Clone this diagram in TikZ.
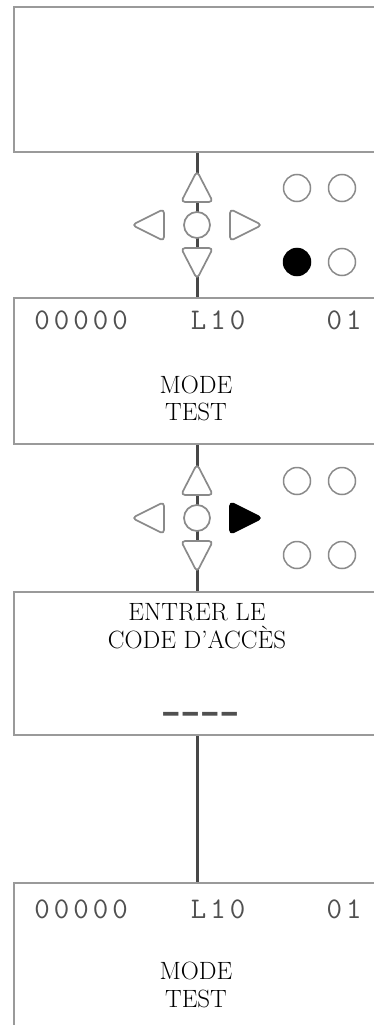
\documentclass[tikz,border=0pt]{standalone}
\usepackage{fontspec}
\usepackage{graphicx}
\usetikzlibrary{calc}
\newfontfamily\dashfont{DejaVu Sans}
\definecolor{boxgray}{HTML}{9A9A9A}
\definecolor{keygray}{HTML}{8A8A8A}
\definecolor{linedark}{HTML}{474747}
\definecolor{lcdgray}{HTML}{505050}
\newcommand\lcdtxt[1]{\lcdloop#1\relax}
\def\lcdloop#1{\ifx#1\relax\else\makebox[19.5pt]{#1}\expandafter\lcdloop\fi}
\newcommand\wdash{\scalebox{1.3}[1]{–}}
\tikzset{
  screen/.style={draw=boxgray, line width=1.6pt, fill=white, minimum width=366pt, inner sep=0pt, rectangle},
  conn/.style={draw=linedark, line width=3pt},
  ktri/.style={draw=keygray, line width=1.7pt, fill=white, rounded corners=4pt, line join=round},
  ktrion/.style={draw=black, line width=1.7pt, fill=black, rounded corners=4pt, line join=round},
  kbtn/.style={circle, draw=keygray, line width=1.7pt, fill=white, minimum size=26pt, inner sep=0pt},
  led/.style={circle, draw=keygray, line width=1.5pt, fill=white, minimum size=27pt, inner sep=0pt},
  ledon/.style={circle, draw=black, line width=1.5pt, fill=black, minimum size=27pt, inner sep=0pt},
  lcd/.style={inner sep=0pt, anchor=base, text=lcdgray, font=\ttfamily\fontsize{30}{30}\selectfont},
  msg/.style={inner sep=0pt, anchor=base, font=\fontsize{25}{28}\selectfont},
}
% #1 name, #2 centre y, #3 style of right arrow, #4 style of lower-left LED
\newcommand\kpad[4]{%
  \node[kbtn] (#1ok) at (197,#2) {};
  \draw[ktri] (197,{#2-54}) -- (213,{#2-23}) -- (181,{#2-23}) -- cycle;
  \draw[ktri] (197,{#2+54}) -- (213,{#2+23}) -- (181,{#2+23}) -- cycle;
  \draw[ktri] (132,#2) -- (164,{#2-16}) -- (164,{#2+16}) -- cycle;
  \draw[#3] (262,#2) -- (230,{#2-16}) -- (230,{#2+16}) -- cycle;
  \node[led] (#1la) at (297,{#2-37}) {};
  \node[led] (#1lb) at (342,{#2-37}) {};
  \node[#4] (#1lc) at (297,{#2+37}) {};
  \node[led] (#1ld) at (342,{#2+37}) {};
}
\begin{document}
\begin{tikzpicture}[x=1pt,y=-1pt]
\useasboundingbox (0,0) rectangle (374,1025);
\clip (0,0) rectangle (374,1025);
\fill[white] (0,0) rectangle (374,1025);
% screens
\node[screen, minimum height=145pt] (s1) at (197,79.5) {};
\node[screen, minimum height=146pt] (s2) at (197,371) {};
\node[screen, minimum height=143pt] (s3) at (197,663.5) {};
\node[screen, minimum height=160pt] (s4) at (197,963) {};
% connectors
\draw[conn] (s1.south) -- (s2.north);
\draw[conn] (s2.south) -- (s3.north);
\draw[conn] (s3.south) -- (s4.north);
% keypads
\kpad{ka}{225}{ktri}{ledon}
\kpad{kb}{518}{ktrion}{led}
% screen 2
\node[lcd] (c2a) at (81,329) {\lcdtxt{00000}};
\node[lcd] (c2b) at (218,329) {\lcdtxt{L10}};
\node[lcd] (c2c) at (344,329) {\lcdtxt{01}};
\node[msg] (m2a) at (196,393) {MODE};
\node[msg] (m2b) at (196,420) {TEST};
% screen 3
\node[msg] (m3a) at (197,620) {ENTRER LE};
\node[msg] (m3b) at (197,648) {CODE D’ACCÈS};
\node[lcd, font=\dashfont\bfseries\fontsize{30}{30}\selectfont] (m3c) at (200,722) {\lcdtxt{\wdash\wdash\wdash\wdash}};
% screen 4
\node[lcd] (c4a) at (81,918) {\lcdtxt{00000}};
\node[lcd] (c4b) at (218,918) {\lcdtxt{L10}};
\node[lcd] (c4c) at (344,918) {\lcdtxt{01}};
\node[msg] (m4a) at (196,979) {MODE};
\node[msg] (m4b) at (196,1007) {TEST};
\end{tikzpicture}
\end{document}
